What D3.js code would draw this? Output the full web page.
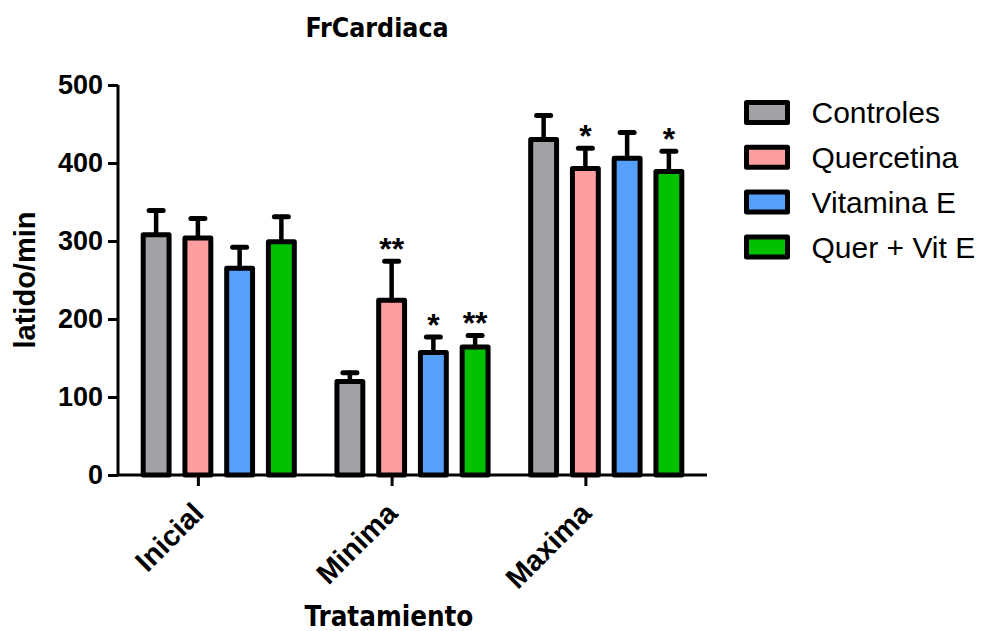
<!DOCTYPE html>
<html>
<head>
<meta charset="utf-8">
<script src="https://cdn.jsdelivr.net/npm/d3@7"></script>
<style>
  html, body { margin: 0; padding: 0; background: #fff; }
  svg { display: block; }
</style>
</head>
<body>
<svg id="chart" width="990" height="631"></svg>
<script>
// Heart-rate measurements per treatment phase (mean ± SEM)
const categories = ["Inicial", "Minima", "Maxima"];
const seriesNames = ["Controles", "Quercetina", "Vitamina E", "Quer + Vit E"];
const seriesColors = ["#a2a2a6", "#ff9e9e", "#56a0fc", "#00c000"];
const controles   = [308, 120, 430];
const quercetina  = [304, 224, 393];
const vitaminaE   = [265, 157, 406];
const querVitE    = [299, 164, 389];
const errControles  = [31, 11, 31];
const errQuercetina = [25, 50, 26];
const errVitaminaE  = [27, 20, 33];
const errQuerVitE   = [32, 15, 26];
// significance marks vs. control, per series and phase
const sigControles  = ["", "", ""];
const sigQuercetina = ["", "**", "*"];
const sigVitaminaE  = ["", "*", ""];
const sigQuerVitE   = ["", "**", "*"];
const yTicks = [0, 100, 200, 300, 400, 500];

const means = [controles, quercetina, vitaminaE, querVitE];
const errs = [errControles, errQuercetina, errVitaminaE, errQuerVitE];
const sigs = [sigControles, sigQuercetina, sigVitaminaE, sigQuerVitE];

const rows = [];
seriesNames.forEach((s, si) => {
  categories.forEach((c, ci) => {
    rows.push({ series: s, si, cat: c, value: means[si][ci], err: errs[si][ci], sig: sigs[si][ci] });
  });
});

const svg = d3.select("#chart");
const plotL = 118, plotR = 707, plotT = 85, plotB = 475;
const armFont = "'Liberation Sans', Arial, sans-serif";
const titleFont = "'DejaVu Sans Condensed', 'DejaVu Sans', sans-serif";

const x0 = d3.scaleBand().domain(categories).range([plotL, plotR])
  .paddingInner(0.22).paddingOuter(0.13);
const x1 = d3.scaleBand().domain(seriesNames).range([0, x0.bandwidth()])
  .paddingInner(0.38).paddingOuter(0);
const y = d3.scaleLinear().domain([0, 500]).range([plotB, plotT]);
const color = d3.scaleOrdinal().domain(seriesNames).range(seriesColors);

// bars
svg.append("g").selectAll("rect").data(rows).join("rect")
  .attr("x", d => x0(d.cat) + x1(d.series))
  .attr("y", d => y(d.value))
  .attr("width", x1.bandwidth())
  .attr("height", d => y(0) - y(d.value))
  .attr("fill", d => color(d.series))
  .attr("stroke", "#000")
  .attr("stroke-width", 5)
  .attr("stroke-linejoin", "round");

// error bars (upper whisker only)
const eb = svg.append("g").attr("stroke", "#000").attr("stroke-linecap", "round");
const cx = d => x0(d.cat) + x1(d.series) + x1.bandwidth() / 2;
eb.selectAll("line.v").data(rows).join("line").attr("class", "v")
  .attr("x1", cx).attr("x2", cx)
  .attr("y1", d => y(d.value)).attr("y2", d => y(d.value + d.err))
  .attr("stroke-width", 4.5);
eb.selectAll("line.cap").data(rows).join("line").attr("class", "cap")
  .attr("x1", d => cx(d) - 7).attr("x2", d => cx(d) + 7)
  .attr("y1", d => y(d.value + d.err)).attr("y2", d => y(d.value + d.err))
  .attr("stroke-width", 5);

// significance asterisks
svg.append("g").selectAll("text").data(rows.filter(d => d.sig)).join("text")
  .attr("x", cx)
  .attr("y", d => y(d.value + d.err) - 1)
  .attr("text-anchor", "middle")
  .attr("font-family", armFont).attr("font-weight", "bold").attr("font-size", 32)
  .text(d => d.sig);

// y axis
const yAxis = svg.append("g").attr("transform", `translate(${plotL},0)`)
  .call(d3.axisLeft(y).tickValues(yTicks).tickSize(10).tickPadding(5).tickSizeOuter(0));
yAxis.select(".domain").attr("stroke-width", 3).attr("d", `M0,${plotT}V${plotB}`);
yAxis.selectAll(".tick line").attr("stroke-width", 3);
yAxis.selectAll(".tick text").attr("font-family", armFont).attr("font-weight", "bold")
  .attr("font-size", 27).attr("fill", "#000");

// x axis: ticks sit under the second bar of each group
const tickPos = d3.scaleOrdinal().domain(categories)
  .range(categories.map(c => x0(c) + x1(seriesNames[1]) + x1.bandwidth() / 2));
svg.append("line").attr("x1", plotL).attr("x2", plotR).attr("y1", plotB).attr("y2", plotB)
  .attr("stroke", "#000").attr("stroke-width", 3);
const xAxis = svg.append("g").attr("transform", `translate(0,${plotB})`)
  .call(d3.axisBottom(tickPos).tickSize(11).tickSizeOuter(0));
xAxis.select(".domain").remove();
xAxis.selectAll(".tick line").attr("stroke-width", 3);
xAxis.selectAll(".tick text")
  .attr("font-family", armFont).attr("font-weight", "bold").attr("font-size", 29).attr("fill", "#000")
  .attr("text-anchor", "end").attr("dy", 0).attr("y", 0)
  .attr("transform", "translate(7,40) rotate(-45)");

// titles
svg.append("text").attr("x", 377).attr("y", 37).attr("text-anchor", "middle")
  .attr("font-family", titleFont).attr("font-weight", "bold").attr("font-size", 26.5)
  .text("FrCardiaca");
svg.append("text").attr("x", 389).attr("y", 626).attr("text-anchor", "middle")
  .attr("font-family", titleFont).attr("font-weight", "bold").attr("font-size", 27.5)
  .text("Tratamiento");
svg.append("text").attr("transform", "translate(35,280) rotate(-90)").attr("text-anchor", "middle")
  .attr("font-family", armFont).attr("font-weight", "bold").attr("font-size", 29)
  .text("latido/min");

// legend
const legend = svg.append("g").selectAll("g").data(seriesNames).join("g")
  .attr("transform", (d, i) => `translate(746.5,${102.5 + i * 44.8})`);
legend.append("rect").attr("width", 41).attr("height", 20)
  .attr("fill", d => color(d)).attr("stroke", "#000").attr("stroke-width", 5)
  .attr("stroke-linejoin", "round");
legend.append("text").attr("x", 65).attr("y", 10).attr("dy", "0.36em")
  .attr("font-family", armFont).attr("font-size", 30).attr("fill", "#000")
  .text(d => d);
</script>
</body>
</html>
